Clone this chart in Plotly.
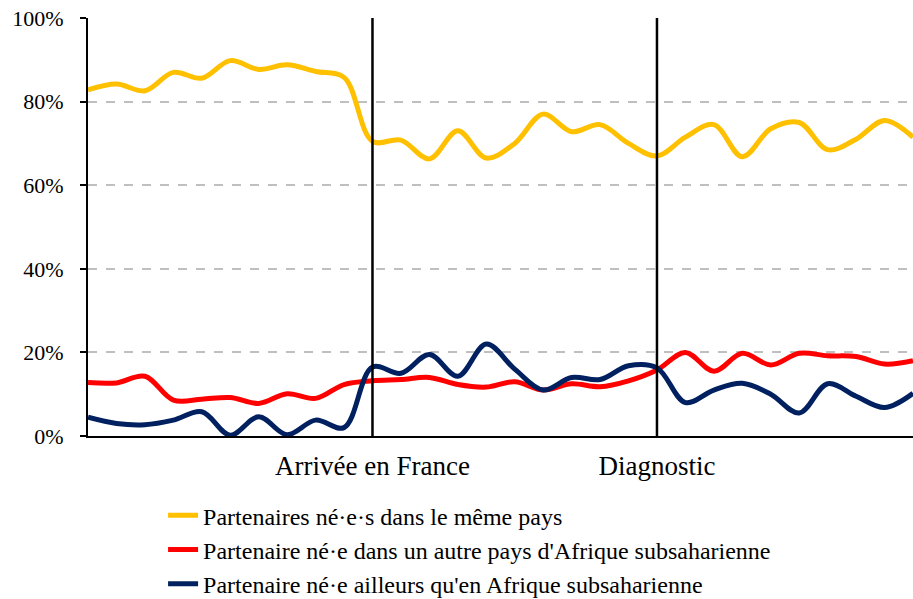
import plotly.graph_objects as go

# index of each observation along the life course (0-29)
points = list(range(30))
event_positions = [10, 20]
event_labels = ['Arrivée en France', 'Diagnostic']

meme_pays = [82.8, 84.2, 82.6, 87.0, 85.6, 89.8, 87.7, 88.8, 87.2, 85.8,
             70.5, 70.8, 66.3, 73.0, 66.5, 70.0, 77.0, 72.8, 74.5, 70.0,
             67.0, 71.5, 74.5, 66.8, 73.5, 75.0, 68.5, 71.0, 75.5, 71.5]
autre_pays_afrique = [12.8, 12.7, 14.3, 8.6, 8.8, 9.2, 7.8, 10.1, 9.0, 12.3,
                      13.2, 13.5, 14.0, 12.3, 11.7, 13.0, 11.0, 12.5, 11.8, 13.2,
                      15.8, 20.0, 15.5, 19.8, 17.0, 19.8, 19.2, 19.0, 17.2, 18.0]
hors_afrique = [4.5, 3.0, 2.7, 3.8, 5.8, 0.2, 4.6, 0.3, 3.8, 2.0,
                16.5, 15.0, 19.5, 14.3, 22.0, 16.0, 11.0, 14.0, 13.5, 16.8,
                16.3, 8.0, 11.0, 12.6, 10.0, 5.5, 12.5, 9.5, 6.8, 10.2]

series = [
    ('Partenaires né·e·s dans le même pays', meme_pays, '#FFC000'),
    ("Partenaire né·e dans un autre pays d'Afrique subsaharienne", autre_pays_afrique, '#FF0000'),
    ("Partenaire né·e ailleurs qu'en Afrique subsaharienne", hors_afrique, '#002060'),
]

fig = go.Figure()
for name, vals, color in series:
    fig.add_trace(go.Scatter(x=points, y=vals, mode='lines', name=name,
                             line=dict(color=color, width=5, shape='spline', smoothing=1.0)))

for pos in event_positions:
    fig.add_shape(type='line', x0=pos, x1=pos, y0=0, y1=100, xref='x', yref='y',
                  line=dict(color='black', width=2.5), layer='above')

serif = 'Liberation Serif'

fig.update_layout(
    width=913, height=599,
    margin=dict(l=88, r=0, t=18, b=163, autoexpand=False),
    plot_bgcolor='white', paper_bgcolor='white',
    font=dict(family=serif, size=22, color='black'),
    showlegend=True,
    legend=dict(x=0.091, y=-0.137, xanchor='left', yanchor='top',
                font=dict(family=serif, size=24, color='black'),
                bgcolor='rgba(0,0,0,0)'),
)
fig.update_xaxes(range=[0, 29], tickvals=event_positions, ticktext=event_labels,
                 showgrid=False, zeroline=False, showline=True, linecolor='black', linewidth=2,
                 ticks='', automargin=False, ticklabelstandoff=5,
                 tickfont=dict(family=serif, size=27, color='black'))
fig.update_yaxes(range=[0, 100], tickvals=[0, 20, 40, 60, 80, 100],
                 ticktext=['0%', '20%', '40%', '60%', '80%', '100%'],
                 showgrid=True, gridcolor='#BFBFBF', griddash='dash', gridwidth=1.5,
                 zeroline=False, showline=True, linecolor='black', linewidth=2,
                 ticks='outside', ticklen=6, tickcolor='black', tickwidth=2,
                 automargin=False, ticklabelstandoff=12, ticklabeloverflow='allow',
                 tickfont=dict(family=serif, size=22, color='black'))

# drop the default 8px body margin so the figure sits at the page corner
fig.write_html("out.html", config={'displayModeBar': False},
               post_script="document.body.style.margin = '0';")
